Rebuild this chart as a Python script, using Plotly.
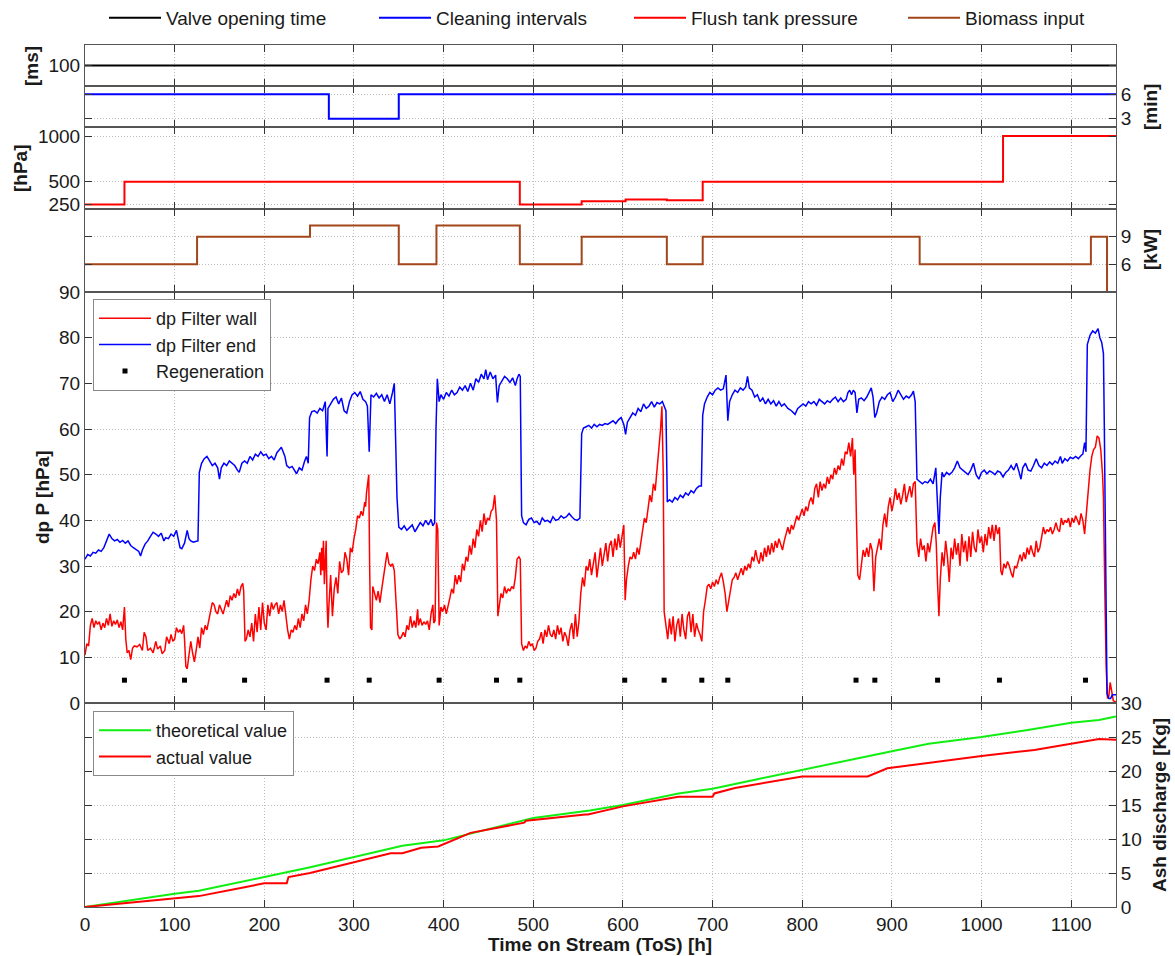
import plotly.graph_objects as go

# ---------------- data ----------------
valve_h = [0, 1150]
valve_ms = [100, 100]

clean_h = [0, 272, 350, 1150]
clean_min = [6, 3, 6, 6]

flush_h = [0, 44, 485, 554, 603, 649, 689, 1024, 1150]
flush_hpa = [250, 500, 250, 285, 305, 295, 500, 1000, 1000]

biomass_h = [0, 125, 251, 350, 392, 485, 554, 649, 689, 931, 1122, 1140]
biomass_kw = [6, 9, 10.2, 6, 10.2, 6, 9, 6, 9, 6, 9, 0]

dp_end_pts = [
    (0, 31.5), (3, 32.5), (6, 32.2), (9, 33.0), (12, 32.8), (15, 33.5), (18, 33.2), (21, 34.0), (24, 35.5), (27, 37.0),
    (30, 36.0), (33, 35.5), (36, 35.8), (39, 35.2), (42, 35.6), (45, 35.0), (48, 35.5), (51, 34.5), (54, 34.0), (57, 33.5),
    (60, 33.2), (62, 32.2), (64, 33.5), (67, 34.8), (70, 35.5), (73, 36.5), (76, 37.4), (79, 37.0), (82, 36.5), (85, 37.2),
    (88, 35.5), (90, 36.2), (93, 36.0), (96, 37.0), (99, 36.5), (102, 37.8), (104, 36.0), (106, 34.0), (108, 33.8), (111, 35.0),
    (114, 37.8), (116, 36.0), (118, 35.5), (121, 35.2), (124, 35.4), (126, 35.5), (127.5, 50.5), (130, 52.5), (133, 53.5), (136, 54.0),
    (139, 53.0), (142, 52.0), (145, 52.5), (148, 51.5), (150, 49.0), (152, 51.5), (155, 52.5), (158, 52.0), (161, 53.0), (164, 52.5),
    (167, 52.0), (170, 51.0), (172, 50.5), (175, 52.5), (178, 53.0), (181, 52.5), (184, 54.0), (187, 53.2), (190, 54.5), (193, 54.0),
    (196, 55.0), (199, 54.2), (202, 54.5), (205, 53.5), (208, 54.0), (211, 53.2), (214, 54.8), (217, 55.5), (219, 56.0), (221, 55.0),
    (223, 54.0), (225, 52.0), (228, 51.5), (231, 51.8), (234, 51.0), (236, 50.2), (239, 51.5), (242, 51.0), (245, 53.0), (247, 54.0),
    (249, 52.5), (250.5, 62.5), (253, 63.8), (256, 64.0), (259, 63.5), (262, 64.5), (265, 64.0), (268, 66.0), (270, 54.0), (271, 64.5),
    (274, 65.5), (277, 66.5), (280, 67.0), (283, 65.5), (286, 66.8), (289, 64.0), (292, 63.5), (295, 66.0), (298, 67.5), (301, 68.0),
    (304, 67.2), (307, 68.2), (310, 66.5), (313, 66.0), (315, 65.0), (317, 55.0), (319, 67.5), (322, 67.0), (325, 67.8), (328, 66.8),
    (331, 67.5), (334, 66.0), (337, 67.5), (340, 65.5), (343, 68.0), (345, 70.0), (348, 45.0), (350, 38.5), (353, 38.0), (356, 38.8),
    (359, 37.8), (362, 38.5), (365, 39.0), (368, 37.5), (371, 38.5), (374, 39.5), (377, 38.8), (380, 40.0), (383, 39.0), (386, 40.2),
    (388, 38.8), (390, 39.5), (391.5, 60.0), (393, 71.0), (395, 66.0), (397, 67.5), (400, 66.5), (403, 68.0), (406, 67.2), (409, 68.5),
    (412, 67.5), (415, 68.0), (418, 69.2), (421, 68.5), (424, 69.5), (427, 68.2), (430, 70.0), (433, 68.5), (436, 71.0), (439, 70.2),
    (442, 72.0), (445, 71.0), (447, 73.0), (449, 70.8), (452, 72.5), (455, 71.0), (458, 71.8), (460, 65.8), (462, 69.5), (465, 70.5),
    (468, 71.5), (471, 71.0), (474, 70.2), (477, 71.2), (480, 69.5), (482, 71.0), (484, 72.0), (485.5, 71.5), (487, 41.0), (489, 39.5),
    (492, 39.0), (495, 40.2), (498, 40.5), (501, 39.5), (504, 39.8), (507, 39.0), (510, 40.5), (513, 39.8), (516, 40.0), (519, 39.5),
    (522, 40.8), (525, 40.0), (528, 40.2), (531, 41.0), (534, 40.5), (537, 40.8), (540, 41.5), (543, 40.8), (546, 40.2), (549, 40.0),
    (552, 40.5), (554, 59.0), (556, 60.2), (559, 60.5), (562, 60.8), (565, 60.2), (568, 61.0), (571, 60.5), (574, 61.0), (577, 60.8),
    (580, 61.2), (583, 61.0), (586, 61.5), (589, 61.8), (592, 61.2), (595, 62.0), (598, 62.5), (601, 61.0), (603, 58.8), (605, 61.5),
    (608, 62.5), (611, 63.5), (614, 63.0), (617, 64.5), (620, 63.8), (623, 65.5), (626, 64.5), (629, 65.0), (632, 66.0), (635, 64.8),
    (638, 65.8), (641, 65.5), (644, 66.0), (646, 65.0), (648, 64.0), (649.5, 44.0), (652, 44.5), (655, 44.0), (658, 45.0), (661, 44.5),
    (664, 45.5), (667, 45.0), (670, 46.0), (673, 45.5), (676, 46.5), (679, 46.0), (682, 47.0), (685, 47.5), (687.5, 47.5), (689, 63.0),
    (691, 65.5), (694, 67.0), (697, 68.0), (700, 67.5), (703, 68.5), (706, 69.0), (709, 68.5), (712, 68.8), (715, 71.8), (717, 61.8),
    (719, 66.0), (722, 67.5), (725, 68.5), (728, 68.0), (731, 69.0), (734, 68.5), (737, 69.2), (739, 71.5), (741, 69.0), (744, 68.5),
    (747, 67.0), (750, 67.5), (753, 66.0), (756, 66.8), (759, 65.5), (762, 66.5), (765, 65.5), (768, 66.2), (771, 65.0), (774, 66.0),
    (777, 65.0), (780, 65.5), (784, 64.5), (788, 64.0), (792, 63.2), (795, 64.5), (798, 65.0), (801, 65.5), (804, 65.0), (807, 66.0),
    (810, 65.5), (813, 66.0), (816, 65.2), (819, 66.5), (822, 66.0), (825, 65.5), (828, 66.2), (831, 65.8), (834, 66.5), (837, 67.0),
    (840, 66.0), (843, 66.8), (846, 66.0), (849, 66.5), (851, 68.0), (853, 68.5), (855, 67.5), (857, 68.5), (859, 68.0), (861, 63.5),
    (863, 66.5), (866, 66.8), (869, 66.2), (872, 67.0), (875, 68.2), (877, 69.0), (879, 67.0), (881, 62.5), (883, 63.5), (886, 66.0),
    (889, 67.0), (892, 66.5), (895, 67.5), (898, 68.0), (901, 66.0), (904, 67.0), (907, 68.5), (910, 67.5), (913, 66.5), (916, 67.2),
    (919, 66.8), (922, 67.5), (924, 68.3), (926, 66.0), (928, 49.0), (931, 48.5), (934, 48.0), (937, 48.5), (940, 48.2), (943, 49.0),
    (946, 48.0), (949, 51.5), (951, 44.0), (952.5, 37.0), (954, 45.0), (956, 50.5), (958, 49.5), (961, 50.5), (964, 50.0), (967, 50.5),
    (970, 51.5), (973, 53.0), (976, 51.5), (979, 51.0), (982, 50.5), (985, 50.0), (988, 51.0), (991, 52.5), (994, 50.0), (997, 49.0),
    (1000, 50.5), (1003, 51.0), (1006, 50.2), (1009, 50.8), (1012, 50.5), (1015, 50.0), (1018, 50.8), (1021, 50.5), (1024, 49.5), (1027, 50.5),
    (1030, 51.0), (1033, 52.0), (1036, 51.0), (1039, 52.5), (1042, 50.5), (1044, 49.0), (1046, 51.5), (1049, 52.5), (1052, 51.0), (1055, 50.8),
    (1058, 52.0), (1061, 53.5), (1064, 52.0), (1067, 51.5), (1070, 52.5), (1073, 52.0), (1076, 52.8), (1079, 52.2), (1082, 53.0), (1085, 52.5),
    (1088, 54.0), (1090, 52.5), (1093, 53.5), (1096, 53.0), (1099, 53.8), (1102, 53.5), (1105, 54.0), (1108, 53.5), (1111, 54.2), (1113, 54.5),
    (1115, 57.0), (1116.5, 55.0), (1118, 78.5), (1121, 80.5), (1124, 81.5), (1127, 81.0), (1130, 82.0), (1132, 80.0), (1134, 79.0), (1136, 76.5),
    (1137, 60.0), (1138.5, 30.0), (1140, 2.0), (1142, 1.0), (1144, 1.0), (1146, 1.8), (1150, 1.8),
]

dp_wall_pts = [
    (0, 10.5), (2, 13.0), (4, 12.5), (6, 17.0), (8, 18.5), (10, 16.5), (12, 18.0), (14, 17.2), (16, 17.8), (18, 16.0),
    (20, 17.5), (22, 16.5), (24, 18.5), (26, 17.0), (28, 19.5), (30, 16.8), (32, 18.0), (34, 17.2), (36, 18.2), (38, 16.5),
    (40, 17.8), (42, 16.0), (44, 21.0), (45.5, 14.0), (47, 11.0), (49, 11.5), (51, 9.5), (53, 12.0), (55, 12.5), (58, 12.3),
    (61, 12.8), (64, 11.5), (66, 15.5), (68, 14.5), (70, 11.5), (73, 12.0), (76, 11.0), (79, 13.5), (81, 11.8), (84, 12.5),
    (86, 10.8), (89, 11.5), (91, 14.5), (94, 13.0), (96, 15.0), (98, 13.5), (100, 14.0), (102, 16.5), (104, 15.5), (106, 16.0),
    (108, 15.2), (110, 17.0), (111, 14.0), (112.5, 8.0), (114, 7.5), (116, 10.5), (118, 13.5), (120, 11.0), (122, 9.0), (124, 11.5),
    (126, 14.5), (128, 12.0), (130, 16.5), (132, 15.0), (134, 17.0), (136, 16.0), (138, 18.5), (140, 20.0), (142, 22.0), (144, 21.5),
    (146, 20.0), (148, 19.5), (150, 21.5), (152, 20.5), (154, 19.5), (156, 21.0), (158, 22.5), (160, 21.0), (162, 23.5), (164, 22.5),
    (166, 24.0), (168, 23.0), (170, 25.0), (172, 23.5), (174, 25.5), (176, 26.2), (177, 24.5), (178.5, 13.5), (180, 14.0), (182, 16.0),
    (184, 14.5), (186, 17.5), (188, 13.5), (190, 19.5), (192, 15.5), (194, 21.0), (196, 16.0), (198, 22.0), (200, 17.5), (202, 16.0),
    (204, 21.5), (206, 19.0), (208, 22.0), (210, 20.5), (212, 21.5), (214, 22.0), (216, 19.5), (218, 21.5), (220, 20.0), (222, 22.5),
    (224, 19.0), (226, 16.0), (228, 14.0), (230, 16.0), (232, 15.5), (234, 17.0), (236, 16.0), (238, 18.5), (240, 16.5), (242, 19.5),
    (244, 18.0), (246, 21.5), (248, 19.5), (250, 22.5), (252, 27.0), (254, 30.0), (256, 29.0), (258, 31.5), (260, 30.5), (262, 33.0),
    (263, 28.0), (264, 34.0), (265, 29.0), (266, 35.5), (267, 26.0), (268, 32.0), (269, 35.5), (270, 22.0), (271, 16.5), (272, 21.0),
    (274, 28.0), (276, 19.0), (278, 25.0), (280, 27.5), (282, 24.0), (284, 31.0), (286, 28.5), (288, 29.0), (290, 33.0), (292, 31.5),
    (294, 28.0), (296, 34.0), (298, 33.0), (300, 36.0), (302, 38.0), (304, 41.0), (306, 40.5), (308, 42.0), (310, 41.0), (312, 44.0),
    (313, 43.0), (314, 46.0), (315, 47.5), (316.5, 50.0), (317.5, 30.0), (318.5, 16.5), (320, 16.0), (321, 25.5), (323, 24.0), (325, 22.5),
    (327, 24.5), (329, 22.0), (331, 25.0), (333, 27.5), (335, 31.0), (337, 33.0), (339, 30.5), (341, 30.0), (343, 30.5), (345, 29.0),
    (347, 22.0), (349, 15.0), (351, 14.0), (353, 14.5), (355, 15.5), (357, 14.5), (359, 17.0), (361, 16.0), (363, 19.0), (365, 16.5),
    (367, 18.0), (369, 16.5), (371, 20.5), (372, 17.0), (374, 18.5), (376, 17.0), (378, 17.8), (380, 17.2), (382, 18.0), (384, 16.0),
    (386, 19.5), (388, 21.5), (389, 17.5), (390.5, 18.0), (392, 39.5), (393.5, 38.0), (395, 17.0), (397, 21.0), (399, 20.0), (401, 21.5),
    (403, 19.5), (405, 21.0), (407, 23.0), (409, 25.0), (411, 24.0), (413, 28.0), (415, 26.0), (417, 28.0), (419, 26.5), (421, 30.5),
    (423, 29.0), (425, 32.0), (427, 31.0), (429, 34.5), (431, 32.5), (433, 36.0), (435, 34.0), (437, 38.0), (439, 36.5), (441, 40.0),
    (443, 37.5), (445, 41.5), (447, 39.0), (449, 40.5), (451, 40.0), (453, 42.0), (455, 42.5), (457, 45.5), (459, 40.0), (460.5, 19.0),
    (462, 21.0), (464, 24.0), (466, 23.0), (468, 25.5), (470, 24.0), (472, 25.0), (474, 24.5), (476, 25.5), (478, 25.0), (480, 27.5),
    (482, 31.5), (484, 32.0), (485.5, 31.5), (487, 13.0), (489, 11.5), (491, 12.5), (493, 12.0), (495, 13.5), (497, 12.5), (499, 13.0),
    (501, 11.5), (503, 12.0), (505, 13.5), (507, 14.0), (509, 15.5), (511, 13.0), (513, 16.0), (515, 14.5), (517, 17.0), (519, 15.0),
    (521, 14.5), (523, 16.0), (525, 14.0), (527, 17.0), (529, 15.0), (531, 16.5), (533, 13.5), (535, 15.5), (537, 14.5), (539, 12.5),
    (541, 16.0), (543, 17.5), (545, 14.0), (547, 19.5), (549, 14.5), (551, 18.0), (553, 24.0), (555, 27.5), (557, 25.5), (559, 30.0),
    (561, 29.0), (563, 31.5), (565, 28.0), (567, 31.0), (569, 33.0), (571, 27.5), (573, 31.5), (575, 34.0), (577, 30.0), (579, 33.0),
    (581, 35.0), (583, 31.0), (585, 34.5), (587, 35.5), (589, 32.0), (591, 36.0), (593, 33.5), (595, 37.0), (597, 34.0), (599, 36.5),
    (601, 39.0), (602.5, 22.5), (604, 27.0), (606, 30.0), (608, 32.0), (610, 31.5), (612, 33.0), (614, 31.5), (616, 34.0), (618, 32.5),
    (620, 35.0), (622, 38.0), (624, 40.5), (626, 39.5), (628, 43.0), (630, 45.5), (632, 44.0), (634, 48.0), (636, 46.5), (638, 51.0),
    (640, 55.0), (642, 60.0), (643.5, 65.0), (645, 50.0), (646, 20.0), (648, 17.5), (650, 14.0), (652, 18.5), (654, 15.0), (656, 19.0),
    (658, 13.5), (660, 17.0), (662, 18.5), (664, 14.5), (666, 19.5), (668, 16.0), (670, 14.0), (672, 19.0), (674, 20.0), (676, 15.5),
    (678, 19.5), (680, 14.5), (682, 17.5), (684, 16.0), (686, 15.0), (688, 13.5), (690, 20.0), (692, 22.5), (694, 25.5), (696, 26.0),
    (698, 25.0), (700, 26.5), (702, 25.5), (704, 27.0), (706, 26.0), (708, 27.5), (710, 28.5), (712, 26.5), (714, 24.0), (716, 20.0),
    (718, 22.5), (720, 25.5), (722, 27.0), (724, 27.5), (726, 28.5), (728, 27.0), (730, 28.5), (732, 29.5), (734, 28.0), (736, 30.0),
    (738, 29.0), (740, 30.5), (742, 29.5), (744, 32.0), (746, 31.0), (748, 33.5), (750, 31.5), (752, 30.5), (754, 33.0), (756, 31.0),
    (758, 34.0), (760, 32.0), (762, 34.5), (764, 32.5), (766, 35.0), (768, 33.0), (770, 35.5), (772, 34.0), (774, 36.0), (776, 34.5),
    (778, 33.5), (780, 35.5), (782, 37.0), (784, 38.5), (786, 37.0), (788, 39.0), (790, 38.0), (792, 39.5), (794, 41.0), (796, 40.0),
    (798, 41.5), (800, 42.5), (802, 41.0), (804, 43.0), (806, 42.0), (808, 44.0), (810, 45.0), (812, 43.5), (814, 47.0), (816, 48.0),
    (818, 45.0), (820, 48.5), (822, 46.5), (824, 48.0), (826, 47.0), (828, 49.5), (830, 48.0), (832, 50.0), (834, 49.0), (836, 51.5),
    (838, 50.0), (840, 52.0), (842, 51.0), (844, 53.5), (846, 52.0), (848, 55.0), (850, 54.5), (852, 57.0), (854, 54.0), (856, 58.0),
    (857.5, 50.0), (859, 55.5), (860.5, 40.0), (862, 28.0), (864, 27.0), (866, 31.0), (868, 33.5), (870, 32.0), (872, 34.0), (874, 32.0),
    (876, 35.0), (878, 33.5), (880, 24.5), (882, 32.0), (884, 34.5), (886, 36.0), (888, 33.5), (890, 39.0), (892, 41.5), (894, 38.5),
    (896, 43.0), (898, 45.0), (900, 42.0), (902, 44.0), (904, 47.0), (906, 44.5), (908, 46.0), (910, 43.5), (912, 45.5), (914, 48.0),
    (916, 44.0), (918, 46.0), (920, 47.5), (922, 45.0), (924, 48.0), (926, 48.5), (928, 35.0), (930, 32.0), (932, 36.0), (934, 33.5),
    (936, 34.5), (938, 31.0), (940, 35.0), (942, 33.0), (944, 36.0), (946, 38.5), (948, 39.5), (949.5, 35.0), (951, 26.0), (952.5, 19.0),
    (954, 27.0), (956, 33.0), (958, 30.0), (960, 35.5), (962, 32.0), (964, 26.5), (966, 34.0), (968, 31.5), (970, 36.0), (972, 32.5),
    (974, 35.0), (976, 30.0), (978, 37.0), (980, 33.0), (982, 35.5), (984, 31.0), (986, 36.5), (988, 32.0), (990, 37.5), (992, 34.0),
    (994, 33.0), (996, 38.0), (998, 35.0), (1000, 36.5), (1002, 33.0), (1004, 37.0), (1006, 34.5), (1008, 38.5), (1010, 36.0), (1012, 39.0),
    (1014, 35.5), (1016, 39.0), (1018, 37.0), (1020, 38.5), (1021.5, 29.0), (1023, 28.0), (1025, 30.5), (1027, 29.5), (1029, 31.0), (1031, 30.0),
    (1033, 28.5), (1035, 27.5), (1037, 30.0), (1039, 29.5), (1041, 31.0), (1043, 32.5), (1045, 31.0), (1047, 33.0), (1049, 31.5), (1051, 34.0),
    (1053, 32.5), (1055, 34.5), (1057, 33.0), (1059, 32.0), (1061, 35.5), (1063, 33.0), (1065, 34.0), (1067, 36.5), (1069, 38.5), (1071, 37.0),
    (1073, 38.0), (1075, 37.5), (1077, 38.5), (1079, 37.0), (1081, 38.0), (1083, 39.5), (1085, 38.0), (1087, 37.5), (1089, 40.5), (1091, 39.0),
    (1093, 40.0), (1095, 39.5), (1097, 40.5), (1099, 38.5), (1101, 40.5), (1103, 39.5), (1105, 41.0), (1107, 40.0), (1109, 39.0), (1111, 41.5),
    (1113, 40.0), (1115, 37.0), (1117, 42.0), (1119, 47.0), (1121, 51.0), (1123, 54.0), (1125, 55.5), (1127, 56.0), (1129, 58.5), (1131, 58.0),
    (1133, 55.5), (1135, 50.0), (1136, 45.0), (1137.5, 25.0), (1139, 8.0), (1140.5, 1.0), (1142, 1.5), (1143.5, 4.5), (1145, 2.5), (1147, 0.5),
    (1150, 0.2),
]

regen_h = [44, 111, 178, 270, 317, 395, 459, 485, 602, 646, 688, 717, 860, 881, 951, 1020, 1116]
regen_level = 5

ash_theo_h = [0, 50, 100, 127, 150, 200, 250, 300, 354, 400, 460, 500, 563, 600, 662, 700, 750, 800, 850, 900, 941, 1000, 1050, 1100, 1131, 1150]
ash_theo_kg = [0, 1.0, 1.95, 2.4, 3.0, 4.4, 5.8, 7.3, 9.0, 9.8, 11.8, 13.1, 14.2, 15.0, 16.7, 17.4, 18.8, 20.2, 21.6, 22.9, 24.0, 25.0, 26.0, 27.1, 27.5, 28.0]

ash_act_h = [0, 50, 100, 127, 178, 200, 225, 227, 251, 300, 341, 354, 375, 394, 430, 490, 492, 558, 561, 600, 662, 700, 702, 725, 800, 873, 895, 1000, 1059, 1131, 1150]
ash_act_kg = [0, 0.6, 1.2, 1.6, 2.9, 3.5, 3.5, 4.4, 5.0, 6.6, 7.9, 7.9, 8.7, 8.9, 10.9, 12.4, 12.7, 13.6, 13.6, 14.8, 16.2, 16.2, 16.7, 17.5, 19.2, 19.2, 20.4, 22.2, 23.1, 24.7, 24.6]

x_ticks = list(range(0, 1101, 100))

# ---------------- layout helpers ----------------
W, H = 1175, 956
L, R, T, B = 85, 59, 45, 49
PW, PH = W - L - R, H - T - B
FONT = "Liberation Sans, Arial, sans-serif"
FS = 19
BROWN = "#A3461B"


def py2paper(py):
    return (H - B - py) / PH


def px2paper(px):
    return (px - L) / PW


bounds = [45, 86, 127, 209, 292, 703, 907]
yspecs = [
    dict(range=[0, 200], tickvals=[100], side="left"),
    dict(range=[2, 7], tickvals=[3, 6], side="right"),
    dict(range=[200, 1100], tickvals=[250, 500, 1000], side="left"),
    dict(range=[3, 12], tickvals=[6, 9], side="right"),
    dict(range=[0, 90], tickvals=list(range(0, 91, 10)), side="left"),
    dict(range=[0, 30], tickvals=list(range(0, 31, 5)), side="right"),
]

fig = go.Figure()

common_axis = dict(
    showline=True, linecolor="#555555", linewidth=1, mirror="allticks",
    ticks="inside", ticklen=7, tickwidth=1, tickcolor="#333333",
    showgrid=True, gridcolor="#bdbdbd", griddash="1px,2px", gridwidth=1,
    zeroline=False, automargin=False, fixedrange=True,
    tickfont=dict(family=FONT, size=FS, color="#1a1a1a"),
)

layout_axes = {}
for i in range(6):
    n = i + 1
    xs = "xaxis" if n == 1 else f"xaxis{n}"
    ys = "yaxis" if n == 1 else f"yaxis{n}"
    layout_axes[xs] = dict(common_axis, domain=[0, 1], range=[0, 1150], tickvals=x_ticks,
                           anchor="y" if n == 1 else f"y{n}", showticklabels=(n == 6))
    layout_axes[ys] = dict(common_axis, domain=[py2paper(bounds[i + 1]), py2paper(bounds[i])],
                           anchor="x" if n == 1 else f"x{n}", **yspecs[i])


def ax(n):
    return ("x" if n == 1 else f"x{n}", "y" if n == 1 else f"y{n}")


# ---------------- traces ----------------
xa, ya = ax(1)
fig.add_trace(go.Scatter(x=valve_h, y=valve_ms, mode="lines", name="Valve opening time",
                         line=dict(color="black", width=2), xaxis=xa, yaxis=ya, legend="legend"))
xa, ya = ax(2)
fig.add_trace(go.Scatter(x=clean_h, y=clean_min, mode="lines", line_shape="hv", name="Cleaning intervals",
                         line=dict(color="#0000ff", width=2), xaxis=xa, yaxis=ya, legend="legend2"))
xa, ya = ax(3)
fig.add_trace(go.Scatter(x=flush_h, y=flush_hpa, mode="lines", line_shape="hv", name="Flush tank pressure",
                         line=dict(color="#ff0000", width=2), xaxis=xa, yaxis=ya, legend="legend3"))
xa, ya = ax(4)
fig.add_trace(go.Scatter(x=biomass_h, y=biomass_kw, mode="lines", line_shape="hv", name="Biomass input",
                         line=dict(color=BROWN, width=2), xaxis=xa, yaxis=ya, legend="legend4"))

xa, ya = ax(5)
wall_h, wall_v = zip(*dp_wall_pts)
end_h, end_v = zip(*dp_end_pts)
fig.add_trace(go.Scatter(x=list(wall_h), y=list(wall_v), mode="lines", name="dp Filter wall",
                         line=dict(color="#ff0000", width=1.5), xaxis=xa, yaxis=ya, legend="legend5"))
fig.add_trace(go.Scatter(x=list(end_h), y=list(end_v), mode="lines", name="dp Filter end",
                         line=dict(color="#0000ff", width=1.5), xaxis=xa, yaxis=ya, legend="legend5"))
fig.add_trace(go.Scatter(x=regen_h, y=[regen_level] * len(regen_h), mode="markers", name="Regeneration",
                         marker=dict(symbol="square", size=5, color="black"), xaxis=xa, yaxis=ya, legend="legend5"))

xa, ya = ax(6)
fig.add_trace(go.Scatter(x=ash_theo_h, y=ash_theo_kg, mode="lines", name="theoretical value",
                         line=dict(color="#11ee11", width=2), xaxis=xa, yaxis=ya, legend="legend6"))
fig.add_trace(go.Scatter(x=ash_act_h, y=ash_act_kg, mode="lines", name="actual value",
                         line=dict(color="#ff0000", width=2), xaxis=xa, yaxis=ya, legend="legend6"))

# ---------------- legends ----------------
legfont = dict(family=FONT, size=FS, color="#1a1a1a")
boxfont = dict(family=FONT, size=18, color="#1a1a1a")


def top_leg(px):
    return dict(x=px2paper(px), y=py2paper(18), xref="paper", yref="paper", xanchor="left", yanchor="middle",
                orientation="h", font=legfont, bgcolor="rgba(0,0,0,0)", borderwidth=0, itemwidth=52)


def box_leg(px, py):
    return dict(x=px2paper(px), y=py2paper(py), xref="paper", yref="paper", xanchor="left", yanchor="top",
                font=boxfont, bgcolor="white", bordercolor="#888888", borderwidth=1, itemwidth=52,
                tracegroupgap=0)


# ---------------- annotations (axis titles) ----------------
titlefont = dict(family=FONT, size=FS, color="#1a1a1a")


def ann(text, px, py, angle):
    return dict(text=f"<b>{text}</b>", x=px2paper(px), y=py2paper(py), xref="paper", yref="paper",
                showarrow=False, textangle=angle, xanchor="center", yanchor="middle", font=titlefont)


annotations = [
    ann("[ms]", 31, 66, -90),
    ann("[hPa]", 20, 168, -90),
    ann("dp P [hPa]", 42, 497, -90),
    ann("[min]", 1150, 107, -90),
    ann("[kW]", 1150, 250, -90),
    ann("Ash discharge [Kg]", 1159, 805, -90),
    ann("Time on Stream (ToS) [h]", 600, 944, 0),
]

fig.update_layout(
    width=W, height=H, autosize=False,
    margin=dict(l=L, r=R, t=T, b=B, pad=0, autoexpand=False),
    paper_bgcolor="white", plot_bgcolor="white",
    font=dict(family=FONT, size=FS, color="#1a1a1a"),
    showlegend=True,
    legend=top_leg(104),
    legend2=top_leg(374),
    legend3=top_leg(629),
    legend4=top_leg(903),
    legend5=box_leg(93, 299),
    legend6=box_leg(93, 711),
    annotations=annotations,
    **layout_axes,
)

fig.write_html("out.html")
